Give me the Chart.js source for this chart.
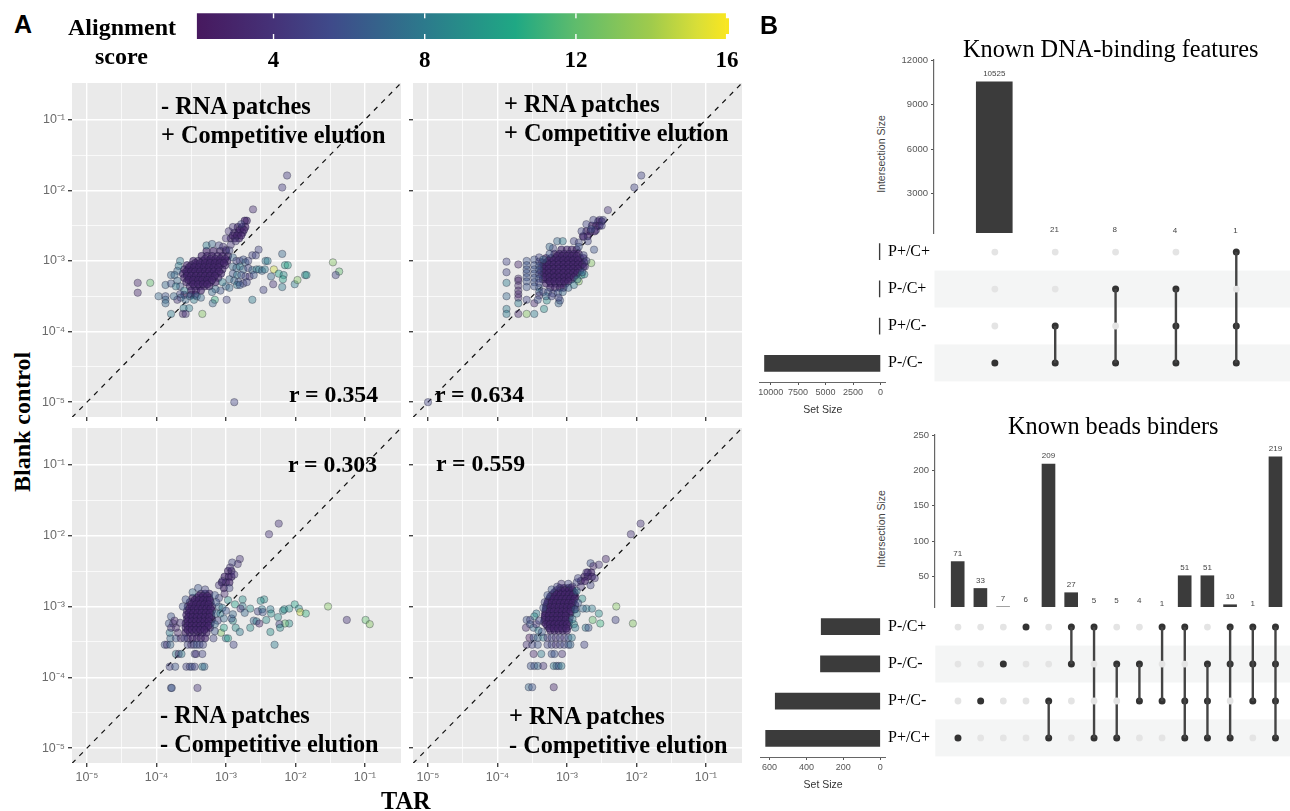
<!DOCTYPE html>
<html>
<head>
<meta charset="utf-8">
<title>Alignment score scatter and UpSet plots</title>
<script src="https://cdn.jsdelivr.net/npm/chart.js@4"></script>
<style>
  html, body { margin: 0; background: #fff; }
  body { position: relative; width: 1290px; height: 811px; overflow: hidden; }
  canvas { position: absolute; }
  .t { position: absolute; white-space: nowrap; font-family: "Liberation Serif", serif; font-weight: bold; font-size: 24.3px; line-height: 28px; color: #000; z-index: 5; }
  .r { font-size: 23.8px; }
  .n { font-weight: normal; font-size: 24.3px; }
  .panel { font-family: "Liberation Sans", sans-serif; font-size: 25px; }
  .axis { font-family: "Liberation Sans", sans-serif; font-weight: normal; font-size: 10.5px; line-height: 14px; color: #444; transform: rotate(-90deg); transform-origin: center; }
</style>
</head>
<body>
<div class="t panel" style="left:14px;top:10px">A</div>
<div class="t panel" style="left:760px;top:11px">B</div>
<div class="t" style="left:68px;top:13px;font-size:24px">Alignment</div>
<div class="t" style="left:95px;top:42px;font-size:24px">score</div>

<div class="t" style="left:161px;top:92px">- RNA patches</div>
<div class="t" style="left:161px;top:121px">+ Competitive elution</div>
<div class="t" style="left:504px;top:90px">+ RNA patches</div>
<div class="t" style="left:504px;top:119px">+ Competitive elution</div>
<div class="t" style="left:160px;top:701px">- RNA patches</div>
<div class="t" style="left:160px;top:730px">- Competitive elution</div>
<div class="t" style="left:509px;top:702px">+ RNA patches</div>
<div class="t" style="left:509px;top:731px">- Competitive elution</div>
<div class="t r" style="left:289px;top:380px">r = 0.354</div>
<div class="t r" style="left:435px;top:380px">r = 0.634</div>
<div class="t r" style="left:288px;top:450px">r = 0.303</div>
<div class="t r" style="left:436px;top:449px">r = 0.559</div>
<div class="t" style="left:-48px;top:408px;width:140px;text-align:center;transform:rotate(-90deg);font-size:24px">Blank control</div>
<div class="t" style="left:381px;top:787px">TAR</div>

<div class="t n" style="left:963px;top:35px">Known DNA-binding features</div>
<div class="t n" style="left:1008px;top:412px">Known beads binders</div>
<div class="t axis" style="left:841px;top:147px;width:80px;text-align:center">Intersection Size</div>
<div class="t axis" style="left:841px;top:522px;width:80px;text-align:center">Intersection Size</div>

<script>
// all scatter values are log10 exponents
// [x, y, score]
const tlPoints = [
  [-2.12,-1.79,4.5],[-2.19,-1.96,4.5],[-2.61,-2.27,3.5],[-2.53,-2.84,5],[-2.19,-2.9,7],
  [-2.43,-3.0,8],[-2.4,-3.0,8],[-2.15,-3.06,10],[-2.11,-3.06,10],[-2.31,-3.12,15],
  [-2.24,-3.18,10],[-2.17,-3.2,9],[-2.18,-3.26,10],[-2.35,-3.22,7],[-2.32,-3.33,4],
  [-2.46,-3.41,5],[-2.19,-3.37,8],[-2.01,-3.33,8],[-1.97,-3.27,13],[-1.86,-3.2,9],
  [-1.84,-3.2,9],[-1.46,-3.02,13],[-1.37,-3.15,12],[-1.42,-3.2,5],[-2.62,-3.55,8],
  [-2.99,-3.55,5],[-3.16,-3.55,11],[-3.19,-3.6,7],[-3.34,-3.75,13],[-3.53,-3.67,8],
  [-3.61,-3.67,8],[-3.62,-3.75,3],[-3.58,-3.75,4],[-3.79,-3.75,8],[-4.27,-3.31,3],
  [-4.27,-3.45,3],[-4.09,-3.31,12],[-3.97,-3.5,7],[-3.87,-3.5,6],[-3.87,-3.55,7],
  [-3.87,-3.6,7],[-3.87,-3.34,7],[-3.79,-3.2,7],[-3.79,-3.32,6],[-2.88,-5.0,5],
  [-3.66,-3.0,8],[-3.68,-3.07,8],[-3.7,-3.14,7],[-3.74,-3.2,7],[-3.7,-3.28,7],
  [-3.66,-3.36,6],[-3.72,-3.36,8],[-3.6,-3.42,8],[-3.66,-3.47,5],[-3.58,-3.55,7],
  [-3.52,-3.5,7],[-3.46,-3.55,8],[-3.42,-3.5,7],[-3.36,-3.52,7],[-3.65,-3.52,7],
  [-3.7,-3.55,4],[-3.75,-3.5,7],[-3.28,-2.78,8],[-3.2,-2.76,7],[-3.1,-2.78,5],
  [-3.04,-2.8,4],[-3.0,-2.84,4],[-2.95,-2.85,5],[-2.9,-2.95,7],[-2.85,-3.0,5],
  [-2.8,-3.0,5],[-2.75,-2.98,6],[-2.72,-3.02,7],[-2.68,-3.0,5],[-2.62,-2.92,5],
  [-2.57,-2.92,5],[-2.9,-3.08,7],[-2.85,-3.1,7],[-2.8,-3.08,8],[-2.75,-3.12,7],
  [-2.68,-3.1,5],[-2.62,-3.13,7],[-2.56,-3.12,8],[-2.52,-3.12,8],[-2.48,-3.14,7],
  [-2.44,-3.12,8],[-2.9,-3.18,6],[-2.84,-3.2,8],[-2.78,-3.2,6],[-2.72,-3.22,5],
  [-2.66,-3.22,4],[-2.6,-3.2,6],[-2.95,-3.26,7],[-2.88,-3.28,7],[-2.82,-3.3,6],
  [-2.75,-3.32,5],[-2.7,-3.3,5],[-3.0,-3.36,7],[-2.95,-3.38,7],[-2.84,-3.34,8],
  [-2.8,-3.34,6],[-3.08,-3.42,6],[-3.15,-3.4,7],[-3.05,-3.3,8],[-3.2,-3.44,7],
  [-2.96,-2.58,4],[-3.0,-2.68,4],[-2.93,-2.77,4],[-2.86,-2.72,4],[-2.78,-2.48,5],
  [-2.9,-2.52,4]
];
const tlCoreY = [-2.43,-2.52,-2.6,-2.68,-2.86,-2.93,-3.0,-3.06,-3.12,-3.18,-3.24,-3.3,-3.36,-3.42,-3.48,
  -2.56,-2.64,-2.97,-3.03,-3.09,-3.15,-3.21,-3.27,-3.33];
const tlCoreX = [
  [-2.7,-2.73],[-2.83,-2.77,-2.72],[-2.88,-2.82,-2.76],[-2.93,-2.87,-2.81],
  [-3.28,-3.18,-3.08,-3.0],[-3.35,-3.27,-3.2,-3.12,-3.05,-2.97],
  [-3.47,-3.4,-3.33,-3.26,-3.19,-3.12,-3.05,-2.98],
  [-3.56,-3.5,-3.43,-3.36,-3.29,-3.22,-3.15,-3.08,-3.01],
  [-3.6,-3.54,-3.47,-3.4,-3.33,-3.26,-3.19,-3.12,-3.05],
  [-3.62,-3.56,-3.49,-3.42,-3.35,-3.28,-3.21,-3.14,-3.07],
  [-3.6,-3.53,-3.46,-3.39,-3.32,-3.25,-3.18,-3.11],
  [-3.57,-3.5,-3.43,-3.36,-3.29,-3.22,-3.15],
  [-3.52,-3.45,-3.38,-3.31,-3.24],[-3.5,-3.43,-3.36],[-3.6,-3.5,-3.44],
  [-2.8,-2.74],[-2.9,-2.84,-2.78],
  [-3.3,-3.22,-3.15,-3.08,-3.01],
  [-3.44,-3.37,-3.3,-3.23,-3.16,-3.09,-3.03],
  [-3.53,-3.46,-3.39,-3.32,-3.25,-3.18,-3.11],
  [-3.57,-3.5,-3.44,-3.37,-3.3,-3.24,-3.17,-3.1],
  [-3.56,-3.5,-3.43,-3.36,-3.3,-3.23,-3.16],
  [-3.54,-3.47,-3.4,-3.34,-3.27,-3.2],
  [-3.47,-3.4,-3.33,-3.27]
];

const trPoints = [
  [-5.0,-5.0,5],[-1.93,-1.79,5],[-2.03,-1.96,5],[-2.41,-2.28,4],[-2.53,-2.42,4],[-2.61,-2.84,6],
  [-2.65,-3.03,13],[-3.87,-3.01,5],[-3.87,-3.16,5],[-3.87,-3.31,8],[-3.87,-3.5,7],
  [-3.87,-3.68,8],[-3.87,-3.75,8],[-3.7,-3.05,3],[-3.7,-3.25,3],[-3.7,-3.28,3],
  [-3.7,-3.35,3],[-3.7,-3.42,3],[-3.7,-3.47,3],[-3.7,-3.52,3],[-3.7,-3.6,8],[-3.7,-3.75,3],
  [-3.58,-3.0,6],[-3.58,-3.06,6],[-3.58,-3.12,6],[-3.58,-3.17,6],[-3.58,-3.23,6],
  [-3.58,-3.29,6],[-3.58,-3.37,6],[-3.58,-3.55,5],[-3.58,-3.75,13],[-3.47,-2.98,6],
  [-3.47,-3.06,6],[-3.47,-3.12,6],[-3.47,-3.18,6],[-3.47,-3.24,6],[-3.47,-3.3,6],
  [-3.47,-3.36,6],[-3.47,-3.6,3],[-3.47,-3.75,8],[-3.4,-2.95,5],[-3.4,-3.01,5],
  [-3.4,-3.07,6],[-3.4,-3.13,6],[-3.4,-3.19,5],[-3.4,-3.25,6],[-3.4,-3.31,5],
  [-3.4,-3.38,6],[-3.4,-3.44,7],[-3.4,-3.49,4],[-3.42,-3.55,6],[-3.33,-3.68,9],
  [-3.29,-3.56,9],[-3.12,-3.6,7],[-3.1,-3.56,6],[-3.14,-2.72,7],[-3.06,-2.72,8],
  [-2.9,-2.72,5],[-2.83,-2.74,5],[-3.2,-2.82,5],[-3.25,-2.8,7],[-2.79,-3.2,10],
  [-2.83,-3.29,13],[-2.75,-3.19,9],[-2.76,-2.92,5],[-2.72,-3.0,5],[-2.74,-3.08,4],
  [-2.78,-3.16,6],[-2.85,-3.26,8],[-3.34,-3.44,5],[-3.27,-3.44,6],[-3.2,-3.46,5],
  [-3.13,-3.45,6],[-3.06,-3.44,7],[-3.3,-3.5,7],[-3.22,-3.5,5],[-3.12,-3.52,5],
  [-2.98,-3.38,7],[-2.9,-3.34,8],[-2.83,-2.8,6],[-3.25,-2.9,6],[-3.34,-2.98,7],
  [-2.62,-2.42,5],[-2.72,-2.48,5],[-2.79,-2.58,5],[-2.7,-2.72,5],[-2.58,-2.56,4],[-2.5,-2.5,5],
  [-2.48,-2.42,5],[-2.76,-2.66,4],[-2.65,-2.55,6]
];
const trCoreY = [-2.44,-2.5,-2.58,-2.65,-2.84,-2.9,-2.96,-3.02,-3.08,-3.14,-3.2,-3.26,-3.32,-3.38,
  -2.93,-2.99,-3.05,-3.11,-3.17,-3.23,-3.29];
const trCoreX = [
  [-2.55,-2.5],[-2.64,-2.58,-2.53],[-2.72,-2.66,-2.6],[-2.77,-2.7],
  [-3.08,-3.0,-2.93,-2.86],[-3.18,-3.11,-3.04,-2.97,-2.9,-2.83],
  [-3.3,-3.23,-3.16,-3.09,-3.02,-2.95,-2.88,-2.81,-2.76],
  [-3.36,-3.29,-3.22,-3.15,-3.08,-3.01,-2.94,-2.87,-2.8,-2.75],
  [-3.36,-3.3,-3.23,-3.16,-3.09,-3.02,-2.95,-2.88,-2.81,-2.76],
  [-3.37,-3.3,-3.23,-3.16,-3.09,-3.02,-2.95,-2.88,-2.81],
  [-3.36,-3.29,-3.22,-3.15,-3.08,-3.01,-2.94,-2.87],
  [-3.35,-3.28,-3.21,-3.14,-3.07,-3.0,-2.93],
  [-3.3,-3.23,-3.16,-3.09,-3.02],[-3.24,-3.17,-3.1,-3.05],
  [-3.14,-3.07,-3.0,-2.93,-2.86],
  [-3.26,-3.19,-3.12,-3.05,-2.98,-2.91,-2.84],
  [-3.33,-3.26,-3.19,-3.12,-3.05,-2.98,-2.91,-2.84,-2.78],
  [-3.33,-3.26,-3.19,-3.12,-3.05,-2.98,-2.91,-2.84],
  [-3.33,-3.26,-3.19,-3.12,-3.05,-2.98,-2.91,-2.85],
  [-3.32,-3.25,-3.18,-3.11,-3.04,-2.97,-2.9],
  [-3.25,-3.18,-3.11,-3.04,-2.98]
];

const blPoints = [
  [-2.24,-1.83,4],[-2.38,-1.98,4],[-2.8,-2.33,4],[-2.83,-2.4,4],[-2.91,-2.38,5],[-2.76,-2.9,9],
  [-2.45,-2.9,9],[-2.5,-2.92,9],[-2.87,-2.97,10],[-2.76,-3.0,8],[-2.65,-3.03,9],
  [-2.79,-3.03,4],[-2.73,-3.09,7],[-2.54,-3.07,5],[-2.48,-3.04,8],[-2.47,-3.08,6],
  [-2.36,-3.04,8],[-2.35,-3.1,9],[-2.42,-3.19,9],[-2.25,-3.15,9],[-2.18,-3.06,9],
  [-2.16,-3.04,9],[-2.09,-3.03,9],[-2.01,-2.97,10],[-1.95,-3.03,9],[-1.93,-3.08,15],
  [-1.85,-3.1,11],[-1.53,-3.0,13],[-1.26,-3.19,4],[-0.99,-3.19,12],[-0.93,-3.25,13],
  [-2.09,-3.24,9],[-2.15,-3.24,12],[-2.23,-3.25,5],[-2.22,-3.3,9],[-2.36,-3.36,9],
  [-2.65,-3.3,9],[-2.86,-3.3,9],[-2.8,-3.36,8],[-2.6,-3.2,7],[-2.56,-3.21,8],
  [-2.52,-3.24,3],[-2.3,-3.54,8],[-2.89,-3.54,5],[-3.0,-3.45,8],[-2.97,-3.45,10],
  [-3.07,-3.37,13],[-3.03,-3.3,10],[-2.9,-3.2,9],[-2.92,-3.17,6],[-3.03,-3.17,7],
  [-2.9,-3.11,7],[-2.97,-2.91,9],[-3.1,-3.0,7],[-3.14,-3.1,7],[-3.08,-3.1,8],[-3.12,-3.2,5],
  [-3.1,-2.88,5],[-3.14,-2.94,6],[-3.05,-3.02,8],[-3.0,-3.06,6],[-3.79,-4.15,6],[-3.78,-4.15,6],[-3.41,-4.15,4],
  [-3.81,-3.85,5],[-3.73,-3.85,6],[-3.57,-3.85,5],[-3.52,-3.85,5],[-3.49,-3.85,6],
  [-3.45,-3.85,5],[-3.34,-3.85,8],[-3.31,-3.85,7],[-3.72,-3.67,8],[-3.68,-3.67,3],
  [-3.64,-3.67,8],[-3.45,-3.67,5],[-3.43,-3.67,4],[-3.34,-3.67,5],[-3.88,-3.54,6],
  [-3.85,-3.54,4],[-3.8,-3.54,7],[-3.55,-3.54,5],[-3.5,-3.54,4],[-3.46,-3.54,5],
  [-3.42,-3.54,6],[-3.38,-3.54,5],[-3.33,-3.54,5],[-3.8,-3.45,7],[-3.72,-3.45,6],[-3.65,-3.45,3],[-3.6,-3.45,5],
  [-3.79,-3.14,6],[-3.82,-3.24,6],[-3.76,-3.24,4],[-3.66,-3.23,4],[-3.81,-3.37,8],[-3.69,-3.37,3],
  [-3.79,-3.3,4],[-3.72,-3.3,3],[-3.74,-3.2,3],[-3.62,-3.0,6],[-3.58,-2.9,6],[-3.48,-2.8,7],
  [-3.4,-2.74,6],[-3.3,-2.76,5],[-3.16,-2.84,6],[-3.16,-3.35,6],[-3.16,-3.25,7],[-3.18,-3.45,5],
  [-3.05,-2.64,4],[-2.95,-2.74,5],[-2.88,-2.55,4],[-3.1,-2.7,4],[-2.94,-2.45,4],[-3.02,-2.82,3]
];
const blCoreY = [-2.5,-2.58,-2.66,-2.74,-2.82,-2.88,-2.94,-3.0,-3.06,-3.12,-3.18,-3.24,-3.3,-3.37,-3.45,
  -2.85,-2.91,-2.97,-3.03,-3.09,-3.15,-3.21,-3.27,-3.33];
const blCoreX = [
  [-2.97,-2.92],[-3.02,-2.96,-2.92],[-3.06,-3.0,-2.95],[-3.03],
  [-3.36,-3.3,-3.24],[-3.48,-3.42,-3.36,-3.3,-3.24],
  [-3.52,-3.46,-3.4,-3.34,-3.28,-3.22],[-3.55,-3.49,-3.43,-3.37,-3.31,-3.25,-3.2],
  [-3.56,-3.5,-3.44,-3.38,-3.32,-3.26,-3.2],[-3.57,-3.51,-3.45,-3.39,-3.33,-3.27,-3.21],
  [-3.56,-3.5,-3.44,-3.38,-3.32,-3.26,-3.2],[-3.58,-3.52,-3.46,-3.4,-3.34,-3.28,-3.22],
  [-3.58,-3.52,-3.46,-3.4,-3.34,-3.28,-3.23],[-3.58,-3.52,-3.46,-3.4,-3.34,-3.28],
  [-3.55,-3.48,-3.42,-3.36,-3.3],
  [-3.39,-3.33,-3.27],[-3.45,-3.39,-3.33,-3.27,-3.23],
  [-3.5,-3.43,-3.37,-3.31,-3.25],[-3.53,-3.46,-3.4,-3.34,-3.28,-3.22],
  [-3.53,-3.47,-3.41,-3.35,-3.29,-3.23],[-3.54,-3.48,-3.42,-3.36,-3.3,-3.24],
  [-3.55,-3.49,-3.43,-3.37,-3.31,-3.25],[-3.55,-3.49,-3.43,-3.37,-3.31,-3.25],
  [-3.55,-3.49,-3.43,-3.37,-3.31]
];

const brPoints = [
  [-1.94,-1.83,4],[-2.08,-1.98,4],[-2.44,-2.33,3],[-2.54,-2.41,4],[-2.66,-2.39,6],[-2.62,-2.43,3],
  [-2.29,-3.0,13],[-2.3,-3.19,5],[-2.05,-3.24,13],[-2.54,-3.1,9],[-2.63,-3.19,12],
  [-2.52,-3.24,11],[-2.64,-3.03,8],[-2.72,-3.03,8],[-2.77,-3.03,7],[-2.86,-3.1,8],
  [-2.78,-2.89,9],[-2.75,-3.54,5],[-2.73,-3.3,8],[-2.69,-3.3,6],[-2.9,-3.25,9],
  [-2.88,-3.3,8],[-2.92,-3.18,8],[-2.88,-3.04,7],[-2.84,-2.95,6],[-3.55,-4.14,7],[-3.5,-4.14,6],
  [-3.19,-4.14,3],[-3.52,-3.84,6],[-3.47,-3.84,6],[-3.42,-3.84,7],[-3.34,-3.84,4],
  [-3.19,-3.84,8],[-3.15,-3.84,7],[-3.12,-3.84,6],[-3.08,-3.84,8],[-3.48,-3.67,3],
  [-3.37,-3.67,8],[-3.22,-3.67,6],[-3.18,-3.67,6],[-3.07,-3.67,4],[-3.58,-3.54,4],
  [-3.5,-3.54,5],[-3.42,-3.54,6],[-3.28,-3.54,5],[-3.22,-3.54,5],[-3.16,-3.54,4],
  [-3.1,-3.54,5],[-3.04,-3.54,5],[-2.98,-3.54,6],[-2.95,-3.54,7],[-3.54,-3.44,2],
  [-3.48,-3.44,6],[-3.42,-3.44,7],[-3.34,-3.44,8],[-3.28,-3.44,4],[-3.22,-3.44,5],
  [-3.16,-3.44,4],[-3.1,-3.44,5],[-3.04,-3.44,4],[-2.98,-3.44,6],[-2.93,-3.44,8],
  [-3.44,-3.1,8],[-3.47,-3.14,9],[-3.58,-3.19,6],[-3.53,-3.19,5],[-3.59,-3.3,3],
  [-3.53,-3.25,6],[-3.48,-3.3,7],[-3.44,-3.25,4],[-3.4,-3.2,5],[-3.41,-3.34,8],
  [-3.36,-3.36,6],[-3.34,-3.02,6],[-3.32,-2.94,5],[-3.28,-2.84,6],[-3.22,-2.76,6],[-3.14,-2.72,5],
  [-3.08,-2.68,4],[-2.98,-2.68,5],[-2.92,-2.72,4],[-2.86,-2.78,8],[-2.86,-2.66,5],
  [-2.8,-2.72,4],[-2.66,-2.7,5],[-2.6,-2.6,4],[-2.72,-2.52,4],[-2.84,-2.6,5]
];
const brCoreY = [-2.52,-2.58,-2.64,-2.74,-2.8,-2.86,-2.92,-2.98,-3.04,-3.1,-3.16,-3.22,-3.28,-3.34,
  -2.77,-2.83,-2.89,-2.95,-3.01,-3.07,-3.13,-3.19,-3.25,-3.31];
const brCoreX = [
  [-2.7,-2.65],[-2.75,-2.7,-2.64],[-2.8,-2.74],
  [-3.1,-3.04,-2.98,-2.94],[-3.18,-3.12,-3.06,-3.0,-2.94,-2.89],
  [-3.24,-3.18,-3.12,-3.06,-3.0,-2.94,-2.88],[-3.27,-3.21,-3.15,-3.09,-3.03,-2.97,-2.91],
  [-3.29,-3.23,-3.17,-3.11,-3.05,-2.99,-2.93,-2.88],[-3.3,-3.24,-3.18,-3.12,-3.06,-3.0,-2.94,-2.89],
  [-3.31,-3.25,-3.19,-3.13,-3.07,-3.01,-2.95],[-3.32,-3.26,-3.2,-3.14,-3.08,-3.02,-2.96],
  [-3.33,-3.27,-3.21,-3.15,-3.09,-3.03,-2.97],[-3.28,-3.22,-3.16,-3.1,-3.04,-2.98],
  [-3.24,-3.18,-3.12,-3.06,-3.0],
  [-3.15,-3.09,-3.03,-2.97,-2.92],[-3.21,-3.15,-3.09,-3.03,-2.97,-2.91],
  [-3.25,-3.19,-3.13,-3.07,-3.01,-2.95,-2.89],[-3.28,-3.22,-3.16,-3.1,-3.04,-2.98,-2.92],
  [-3.3,-3.24,-3.18,-3.12,-3.06,-3.0,-2.94],[-3.31,-3.25,-3.19,-3.13,-3.07,-3.01,-2.95],
  [-3.32,-3.26,-3.2,-3.14,-3.08,-3.02],[-3.32,-3.26,-3.2,-3.14,-3.08,-3.02],
  [-3.3,-3.24,-3.18,-3.12,-3.06,-3.0],[-3.25,-3.19,-3.13,-3.07,-3.01]
];

const decadeExps = [-5, -4, -3, -2, -1];
const decadeLabels = ['10⁻⁵', '10⁻⁴', '10⁻³', '10⁻²', '10⁻¹'];
const halfExps = [-4.5, -3.5, -2.5, -1.5];
const diagonalExps = [-5.216, -0.48];
const coreScore = 3;

const scoreTicks = [4, 8, 12, 16];
const viridisStops = [
  [2, '#47195f'], [4, '#453278'], [5.5, '#3f4a8a'], [8, '#2c7a8c'],
  [10.4, '#1fa884'], [12, '#5fbc6c'], [14, '#a0cb4c'], [15.2, '#d8de38'], [16, '#f8e621']
];

const dnaSets = ['P+/C+', 'P-/C+', 'P+/C-', 'P-/C-'];
const dnaSetSizes = [1, 13, 26, 10559];
const dnaSizes = [10525, 21, 8, 4, 1];
const dnaMembers = [[3], [2, 3], [1, 3], [1, 2, 3], [0, 2, 3]];
const dnaTicks = [3000, 6000, 9000, 12000];
const dnaSetTicks = [10000, 7500, 5000, 2500, 0];

const beadSets = ['P-/C+', 'P-/C-', 'P+/C-', 'P+/C+'];
const beadSetSizes = [320, 324, 569, 621];
const beadSizes = [71, 33, 7, 6, 209, 27, 5, 5, 4, 1, 51, 51, 10, 1, 219];
const beadMembers = [[3], [2], [1], [0], [2, 3], [0, 1], [0, 3], [1, 3], [1, 2], [0, 2], [0, 2, 3], [1, 2, 3], [0, 1, 3], [0, 1, 2], [0, 1, 2, 3]];
const beadTicks = [50, 100, 150, 200, 250];
const beadSetTicks = [600, 400, 200, 0];

Chart.defaults.animation = false;
Chart.defaults.responsive = false;
Chart.defaults.layout.autoPadding = false;
Chart.defaults.font.family = '"Liberation Sans", sans-serif';
Chart.defaults.plugins.legend.display = false;
Chart.defaults.plugins.tooltip.enabled = false;

function addCanvas(left, top, w, h) {
  const c = document.createElement('canvas');
  c.width = w;
  c.height = h;
  c.style.left = left + 'px';
  c.style.top = top + 'px';
  document.body.appendChild(c);
  return c;
}

function hexRgb(h) {
  return [parseInt(h.slice(1, 3), 16), parseInt(h.slice(3, 5), 16), parseInt(h.slice(5, 7), 16)];
}

function scoreColor(s, alpha) {
  let i = 0;
  while (i < viridisStops.length - 2 && s > viridisStops[i + 1][0]) i++;
  const [s0, c0] = viridisStops[i];
  const [s1, c1] = viridisStops[i + 1];
  const f = Math.max(0, Math.min(1, (s - s0) / (s1 - s0)));
  const a = hexRgb(c0), b = hexRgb(c1);
  const mix = a.map((v, k) => Math.round(v + (b[k] - v) * f));
  return `rgba(${mix[0]},${mix[1]},${mix[2]},${alpha})`;
}

const panelBg = {
  id: 'panelBg',
  beforeDraw(chart) {
    const a = chart.chartArea;
    chart.ctx.fillStyle = '#eaeaea';
    chart.ctx.fillRect(a.left, a.top, a.width, a.height);
  }
};

// one of the four log-log panels
function scatterPanel(plotL, plotT, plotW, plotH, points, coreY, coreX, showX, showY) {
  const mL = 36, mB = 26, pad = 14;
  const canvas = addCanvas(plotL - mL, plotT - pad, Math.round(plotW + mL + pad), Math.round(plotH + mB + pad));
  const core = [];
  coreY.forEach((y, i) => coreX[i].forEach(x => core.push({ x: 10 ** x, y: 10 ** y })));
  const isDecade = v => Number.isInteger(Math.round(Math.log10(v) * 1000) / 1000);
  const axis = (min, max, show, fit) => ({
    type: 'logarithmic',
    min: 10 ** min,
    max: 10 ** max,
    afterBuildTicks(s) {
      s.ticks = decadeExps.concat(halfExps).sort((a, b) => a - b).map(e => ({ value: 10 ** e }));
    },
    afterFit: fit,
    border: { display: false },
    grid: {
      color: '#fff',
      lineWidth: c => isDecade(c.tick.value) ? 1.4 : 0.7,
      tickColor: c => isDecade(c.tick.value) ? '#444' : 'rgba(0,0,0,0)',
      tickLength: 4
    },
    ticks: {
      autoSkip: false,
      maxRotation: 0,
      padding: 3,
      color: '#6b6b6b',
      font: { size: 12.5 },
      callback(v) {
        if (!show || !isDecade(v)) return '';
        return decadeLabels[decadeExps.indexOf(Math.round(Math.log10(v)))];
      }
    }
  });
  new Chart(canvas, {
    type: 'scatter',
    data: {
      datasets: [
        {
          data: points.map(p => ({ x: 10 ** p[0], y: 10 ** p[1] })),
          pointRadius: 3.7,
          pointBorderWidth: 0.7,
          pointBorderColor: 'rgba(40,40,60,0.5)',
          pointBackgroundColor: points.map(p => scoreColor(p[2], 0.42))
        },
        {
          data: core,
          pointRadius: 3.7,
          pointBorderWidth: 0.7,
          pointBorderColor: 'rgba(30,25,60,0.6)',
          pointBackgroundColor: scoreColor(coreScore, 0.6)
        },
        {
          data: diagonalExps.map(e => ({ x: 10 ** e, y: 10 ** e })),
          showLine: true,
          pointRadius: 0,
          borderColor: '#111',
          borderWidth: 1.2,
          borderDash: [5, 5.5]
        }
      ]
    },
    options: {
      layout: { padding: { top: pad, right: pad } },
      scales: {
        x: axis(-5.216, -0.48, showX, s => { s.height = mB; }),
        y: axis(-5.21, -0.48, showY, s => { s.width = mL; })
      }
    },
    plugins: [panelBg]
  });
}

scatterPanel(72.3, 83.3, 328.7, 334, tlPoints, tlCoreY, tlCoreX, false, true);
scatterPanel(413, 83.3, 328.7, 334, trPoints, trCoreY, trCoreX, false, false);
scatterPanel(72.3, 427.5, 328.7, 334.5, blPoints, blCoreY, blCoreX, true, true);
scatterPanel(413, 427.5, 328.7, 334.5, brPoints, brCoreY, brCoreX, true, false);

// colour bar
const barTicks = {
  id: 'barTicks',
  afterDatasetsDraw(chart) {
    const { ctx, chartArea: a, scales: { x } } = chart;
    ctx.fillStyle = '#fff';
    scoreTicks.slice(0, 3).forEach(t => {
      const px = x.getPixelForValue(t);
      ctx.fillRect(px - 0.7, a.top, 1.4, 5);
      ctx.fillRect(px - 0.7, a.bottom - 5, 1.4, 5);
    });
  }
};
new Chart(addCanvas(190, 8, 570, 72), {
  type: 'bar',
  data: {
    labels: ['score'],
    datasets: [
      {
        data: [[1.97, 15.96]],
        barPercentage: 1,
        categoryPercentage: 1,
        grouped: false,
        backgroundColor(c) {
          const a = c.chart.chartArea;
          if (!a) return viridisStops[0][1];
          const x = c.chart.scales.x;
          const x0 = x.getPixelForValue(1.97), x1 = x.getPixelForValue(15.96);
          const g = c.chart.ctx.createLinearGradient(x0, 0, x1, 0);
          viridisStops.forEach(([s, col]) => g.addColorStop(Math.min(1, (s - 1.97) / (15.96 - 1.97)), col));
          return g;
        }
      },
      {
        data: [[15.96, 16.05]],
        barThickness: 15,
        grouped: false,
        backgroundColor: '#f8e621'
      }
    ]
  },
  options: {
    indexAxis: 'y',
    layout: { padding: { left: 6.8, right: 31, top: 5.3 } },
    scales: {
      x: {
        offset: false,
        min: 1.97,
        max: 16.05,
        afterBuildTicks(s) { s.ticks = scoreTicks.map(v => ({ value: v })); },
        afterFit(s) { s.height = 41; },
        grid: { display: false },
        border: { display: false },
        ticks: {
          autoSkip: false,
          maxRotation: 0,
          padding: 0,
          color: '#000',
          font: { family: '"Liberation Serif", serif', weight: 'bold', size: 23 }
        }
      },
      y: { display: false }
    }
  },
  plugins: [barTicks]
});

// numbers over the intersection bars, read through the y scale
const sizeLabels = {
  id: 'sizeLabels',
  afterDatasetsDraw(chart) {
    const { ctx, scales: { y } } = chart;
    const ds = chart.data.datasets[0];
    const meta = chart.getDatasetMeta(0);
    ctx.font = '8px "Liberation Sans", sans-serif';
    ctx.fillStyle = '#444';
    ctx.textAlign = 'center';
    ctx.textBaseline = 'middle';
    meta.data.forEach((bar, i) => ctx.fillText(ds.data[i].y, bar.x, y.getPixelForValue(ds.data[i].y) - 7.7));
  }
};

const rowBands = {
  id: 'rowBands',
  beforeDatasetsDraw(chart) {
    const { ctx, chartArea: a, scales: { y } } = chart;
    ctx.fillStyle = '#f4f5f5';
    [1, 3].forEach(r => {
      const top = y.getPixelForValue(r - 0.5);
      ctx.fillRect(a.left, top, a.width, y.getPixelForValue(r + 0.5) - top);
    });
  }
};

function upset(o) {
  const areaL = o.axisX, areaW = 1290 - o.axisX;
  const rowH = 37.4;
  const matrixH = rowH * 4;
  const pad = 12;

  // intersection bars
  new Chart(addCanvas(areaL - 44, o.barTop - pad, areaW + 44, o.barBottom - o.barTop + pad * 2), {
    type: 'bar',
    data: {
      datasets: [{
        data: o.sizes.map((v, i) => ({ x: i + 1, y: v })),
        barThickness: o.barW,
        backgroundColor: '#3b3b3b'
      }]
    },
    options: {
      layout: { padding: { top: pad, bottom: pad } },
      scales: {
        x: { type: 'linear', offset: false, display: false, min: 0, max: o.xMax },
        y: {
          min: o.yMin,
          max: o.yMax,
          afterBuildTicks(s) { s.ticks = o.ticks.map(v => ({ value: v })); },
          afterFit(s) { s.width = 44; },
          border: { color: '#666', width: 1.2 },
          grid: { drawOnChartArea: false, tickColor: '#555', tickLength: 3 },
          ticks: { autoSkip: false, padding: 3, color: '#555', font: { size: 9.5 }, callback: v => String(v) }
        }
      }
    },
    plugins: [sizeLabels]
  });

  // dot matrix
  const light = [], dark = [], links = [];
  o.members.forEach((rows, i) => {
    [0, 1, 2, 3].forEach(r => (rows.includes(r) ? dark : light).push({ x: i + 1, y: r }));
    if (rows.length > 1) {
      links.push({
        data: [{ x: i + 1, y: rows[0] }, { x: i + 1, y: rows[rows.length - 1] }],
        showLine: true,
        pointRadius: 0,
        borderColor: '#444',
        borderWidth: 2.4
      });
    }
  });
  const labelW = areaL - 887.7;
  new Chart(addCanvas(887.7, o.barBottom - pad, areaW + labelW, matrixH + pad * 2), {
    type: 'scatter',
    data: {
      datasets: [
        { data: light, pointRadius: 3.4, pointBorderWidth: 0, pointBackgroundColor: '#e4e4e4' },
        ...links,
        { data: dark, pointRadius: 3.5, pointBorderWidth: 0, pointBackgroundColor: '#333' }
      ]
    },
    options: {
      layout: { padding: { top: pad, bottom: pad } },
      scales: {
        x: { type: 'linear', display: false, min: 0, max: o.xMax },
        y: {
          type: 'linear',
          reverse: true,
          min: -0.5,
          max: 3.5,
          afterBuildTicks(s) { s.ticks = [0, 1, 2, 3].map(v => ({ value: v })); },
          afterFit(s) { s.width = labelW; },
          border: { display: false },
          grid: { display: false },
          ticks: {
            autoSkip: false,
            crossAlign: 'far',
            color: '#000',
            font: { family: '"Liberation Serif", serif', size: 16 },
            callback: v => o.sets[v]
          }
        }
      }
    },
    plugins: [rowBands]
  });

  // set size bars
  new Chart(addCanvas(735, o.barBottom, 151, matrixH + 34), {
    type: 'bar',
    data: {
      labels: o.sets,
      datasets: [{
        data: o.setSizes,
        barThickness: 16,
        minBarLength: 1.2,
        backgroundColor: '#3b3b3b'
      }]
    },
    options: {
      indexAxis: 'y',
      layout: { padding: { left: o.setLeft - 735 } },
      scales: {
        y: { display: false },
        x: {
          reverse: true,
          min: o.setMin,
          max: o.setMax,
          afterBuildTicks(s) { s.ticks = o.setTicks.map(v => ({ value: v })); },
          afterFit(s) { s.height = 34; },
          border: { color: '#666' },
          grid: { drawOnChartArea: false, tickColor: '#555', tickLength: 3 },
          ticks: { autoSkip: false, maxRotation: 0, padding: 2, color: '#555', font: { size: 9 }, callback: v => String(v) },
          title: { display: true, text: 'Set Size', color: '#333', padding: { top: 2, bottom: 0 }, font: { size: 10.5 } }
        }
      }
    }
  });
}

upset({
  axisX: 934.2, barTop: 60, barBottom: 233.3, barW: 36,
  sizes: dnaSizes, members: dnaMembers, ticks: dnaTicks, sets: dnaSets,
  xMax: 5.89, yMin: 343, yMax: 12000,
  setSizes: dnaSetSizes, setTicks: dnaSetTicks, setMin: -504, setMax: 11007, setLeft: 759.6
});
upset({
  axisX: 935, barTop: 435.3, barBottom: 608, barW: 13,
  sizes: beadSizes, members: beadMembers, ticks: beadTicks, sets: beadSets,
  xMax: 15.64, yMin: 6.8, yMax: 250,
  setSizes: beadSetSizes, setTicks: beadSetTicks, setMin: -31, setMax: 650, setLeft: 760.3
});
</script>
</body>
</html>
